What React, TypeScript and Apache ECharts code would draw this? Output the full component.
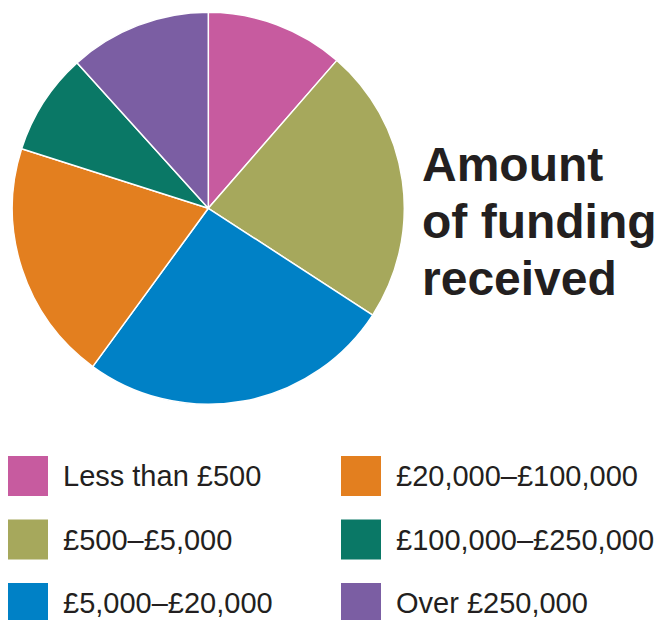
import React, { useEffect, useRef } from "react";
import * as echarts from "echarts";

const categories = [
  "Less than £500",
  "£500–£5,000",
  "£5,000–£20,000",
  "£20,000–£100,000",
  "£100,000–£250,000",
  "Over £250,000",
];
const shares = [11.4, 22.8, 25.9, 19.9, 8.4, 11.7];
const colors = ["#C75B9F", "#A6A85C", "#0081C6", "#E37F1F", "#0A7866", "#7B5EA3"];
const titleLines = ["Amount", "of funding", "received"];

const FONT = "'Liberation Sans', Arial, Helvetica, sans-serif";
const INK = "#231F20";

export default function App() {
  const ref = useRef<HTMLDivElement>(null);
  useEffect(() => {
    if (!ref.current) return;
    const chart = echarts.init(ref.current, undefined, { renderer: "svg" });
    const legendBase = {
      orient: "vertical",
      top: 456,
      height: 200,
      padding: 0,
      itemWidth: 40,
      itemHeight: 40,
      itemGap: 23.5,
      icon: "rect",
      selectedMode: false,
      itemStyle: { borderWidth: 0 },
      textStyle: {
        fontSize: 29,
        lineHeight: 34,
        color: INK,
        fontFamily: FONT,
        padding: [0, 0, 0, 10],
      },
    };
    chart.setOption({
      animation: false,
      color: colors,
      title: {
        text: titleLines.join("\n"),
        left: 422,
        top: 136,
        padding: 0,
        textStyle: {
          fontSize: 48,
          fontWeight: "bold",
          lineHeight: 57,
          color: INK,
          fontFamily: FONT,
        },
      },
      legend: [
        { ...legendBase, left: 8, data: categories.slice(0, 3) },
        { ...legendBase, left: 341, data: categories.slice(3) },
      ],
      series: [
        {
          type: "pie",
          center: [208.3, 208.3],
          radius: [0, 196],
          startAngle: 90,
          clockwise: true,
          label: { show: false },
          labelLine: { show: false },
          emphasis: { disabled: true },
          itemStyle: { borderColor: "#ffffff", borderWidth: 1.5 },
          data: categories.map((name, i) => ({ name, value: shares[i] })),
        },
      ],
    });
    return () => chart.dispose();
  }, []);
  return (
    <div
      ref={ref}
      style={{ position: "fixed", left: 0, top: 0, width: 659, height: 620, background: "#fff" }}
    />
  );
}
